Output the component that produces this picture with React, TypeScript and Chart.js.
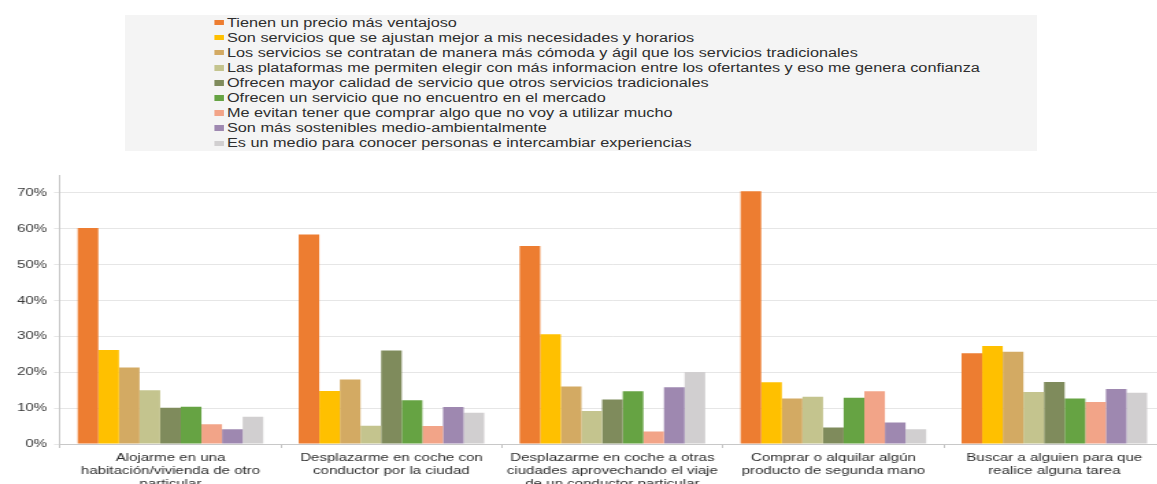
import React, { useEffect, useRef } from "react";
import { Chart, registerables } from "chart.js";

Chart.register(...registerables);

// ---------- DATA ----------
const categories: string[][] = [
  ["Alojarme en una", "habitación/vivienda de otro", "particular"],
  ["Desplazarme en coche con", "conductor por la ciudad"],
  ["Desplazarme en coche a otras", "ciudades aprovechando el viaje", "de un conductor particular"],
  ["Comprar o alquilar algún", "producto de segunda mano"],
  ["Buscar a alguien para que", "realice alguna tarea"],
];

const seriesNames: string[] = [
  "Tienen un precio más ventajoso",
  "Son servicios que se ajustan mejor a mis necesidades y horarios",
  "Los servicios se contratan de manera más cómoda y ágil que los servicios tradicionales",
  "Las plataformas me permiten elegir con más informacion entre los ofertantes y eso me genera confianza",
  "Ofrecen mayor calidad de servicio que otros servicios tradicionales",
  "Ofrecen un servicio que no encuentro en el mercado",
  "Me evitan tener que comprar algo que no voy a utilizar mucho",
  "Son más sostenibles medio-ambientalmente",
  "Es un medio para conocer personas e intercambiar experiencias",
];

const precio = [60.2, 58.4, 55.2, 70.5, 25.3];
const ajustan = [26.2, 14.8, 30.6, 17.2, 27.3];
const comoda = [21.3, 18.0, 16.0, 12.7, 25.7];
const informacion = [15.0, 5.1, 9.2, 13.2, 14.5];
const calidad = [10.1, 26.1, 12.4, 4.6, 17.3];
const noEncuentro = [10.4, 12.2, 14.7, 12.9, 12.7];
const evitan = [5.5, 5.0, 3.5, 14.7, 11.7];
const sostenibles = [4.1, 10.3, 15.8, 6.0, 15.3];
const conocer = [7.6, 8.7, 20.1, 4.1, 14.3];

const seriesValues = [precio, ajustan, comoda, informacion, calidad, noEncuentro, evitan, sostenibles, conocer];

const colors = [
  "#ED7D31",
  "#FFC000",
  "#D3AA63",
  "#C4C48E",
  "#7F8B5C",
  "#66A343",
  "#F2A488",
  "#9E88B0",
  "#D1CFD0",
];

const yTickMax = 70;
const yStep = 10;

// ---------- LAYOUT ----------
const S = 1.37; // horizontal stretch of the chart canvas
const LS = 1.355; // horizontal stretch of the legend
const LOGICAL_W = 852;
const H = 484;
const FONT = '"Liberation Sans", Arial, Helvetica, sans-serif';

export default function App() {
  const ref = useRef<HTMLCanvasElement>(null);

  useEffect(() => {
    if (!ref.current) return;
    Chart.defaults.font.family = FONT;
    const chart = new Chart(ref.current, {
      type: "bar",
      data: {
        labels: categories as any,
        datasets: seriesNames.map((name, i) => ({
          label: name,
          data: seriesValues[i],
          backgroundColor: colors[i],
          borderWidth: 0,
          categoryPercentage: 0.84,
          barPercentage: 1,
        })),
      },
      options: {
        responsive: false,
        animation: false,
        devicePixelRatio: 1,
        layout: { padding: { top: 175, right: 1.6, left: 0, bottom: 0 } },
        plugins: { legend: { display: false }, tooltip: { enabled: false } },
        scales: {
          x: {
            grid: {
              offset: true,
              drawOnChartArea: false,
              drawTicks: true,
              tickLength: 4,
              color: "#c4c4c4",
            },
            border: { color: "#c8c8c8", width: 1 },
            ticks: {
              font: { size: 11 },
              color: "#2e2e2e",
              padding: 3,
              maxRotation: 0,
              minRotation: 0,
              autoSkip: false,
            },
            afterFit: (s: any) => {
              s.height = 40;
            },
          },
          y: {
            min: 0,
            max: 75,
            ticks: {
              stepSize: yStep,
              callback: (v: any) => v + "%",
              font: { size: 11 },
              color: "#3a3a3a",
              padding: 5,
            },
            grid: { color: "#e6e6e6", tickLength: 4.4 },
            border: { color: "#c8c8c8", width: 1 },
            afterFit: (s: any) => {
              s.width = 43.8;
            },
            afterBuildTicks: (s: any) => {
              s.ticks = s.ticks.filter((t: any) => t.value <= yTickMax);
            },
          },
        },
      },
    });
    return () => chart.destroy();
  }, []);

  return (
    <div
      style={{
        position: "absolute",
        left: 0,
        top: 0,
        width: 1157,
        height: H,
        overflow: "hidden",
        background: "#ffffff",
      }}
    >
      <canvas
        ref={ref}
        width={LOGICAL_W}
        height={H}
        style={{
          position: "absolute",
          left: 0,
          top: 0,
          width: LOGICAL_W * S + "px",
          height: H + "px",
        }}
      />
      <div
        style={{
          position: "absolute",
          left: 125,
          top: 15,
          width: 912,
          height: 136,
          background: "#f4f4f4",
          overflow: "hidden",
        }}
      >
        <div
          style={{
            transform: `scaleX(${LS})`,
            transformOrigin: "0 0",
            width: 912 / LS,
            paddingLeft: 90 / LS,
            boxSizing: "border-box",
            fontFamily: FONT,
            fontSize: 12,
            color: "#2e2e2e",
          }}
        >
          {seriesNames.map((name, i) => (
            <div
              key={name}
              style={{
                display: "flex",
                alignItems: "center",
                height: 15.1,
                whiteSpace: "nowrap",
              }}
            >
              <span
                style={{
                  display: "inline-block",
                  width: 9 / LS,
                  height: 5.5,
                  background: colors[i],
                  marginRight: 3 / LS,
                  flex: "none",
                }}
              />
              <span>{name}</span>
            </div>
          ))}
        </div>
      </div>
    </div>
  );
}
